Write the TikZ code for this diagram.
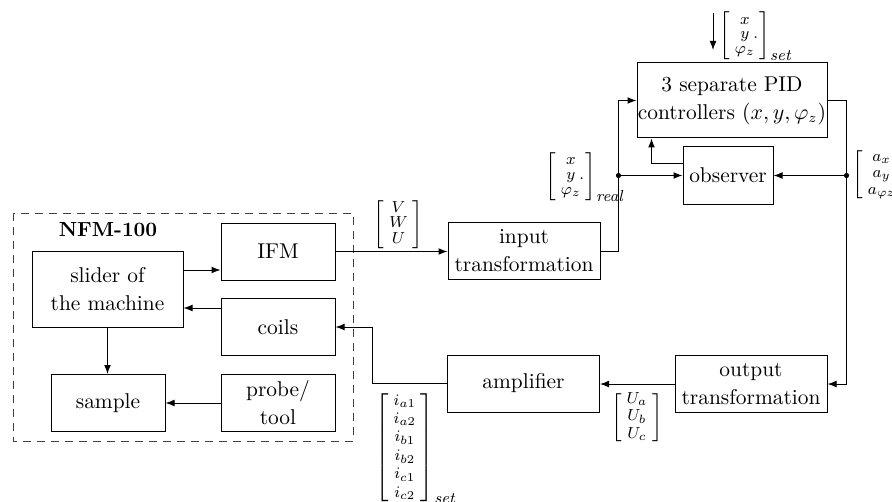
\documentclass[tikz,border=0pt]{standalone}
\usetikzlibrary{arrows.meta}
\begin{document}
\begin{tikzpicture}[x=0.5pt,y=-0.5pt,
  blk/.style={draw, line width=0.5pt, inner sep=0pt, align=center,
    font=\fontsize{10.7}{14}\selectfont,
    minimum width=57pt, minimum height=28.5pt},
  wideblk/.style={blk, minimum width=76pt},
  arr/.style={-{Latex[length=4.5pt,width=3.4pt]}, line width=0.5pt},
  vec/.style={inner sep=0pt, font=\footnotesize\setlength\arraycolsep{2.5pt}},
  jdot/.style={circle, fill, inner sep=0pt, minimum size=2.6pt},
  frame/.style={line width=0.5pt, black!75, dash pattern=on 4pt off 3pt}
]
\useasboundingbox (0,0) rectangle (892,502);

% machine frame
\draw[frame] (13,213) rectangle (353,441);
\node[font=\fontsize{10.2}{12}\selectfont\bfseries] (nfm) at (108,230) {NFM-100};

% blocks inside the machine
\node[blk] (ifm) at (278,251.5) {IFM};
\node[blk, minimum width=75.5pt, minimum height=38pt] (slider) at (107.5,289) {slider of\\the machine};
\node[blk] (coils) at (278,327) {coils};
\node[blk] (sample) at (108,403) {sample};
\node[blk] (probe) at (278,403) {probe/\\tool};

% control blocks
\node[wideblk] (input) at (524,251) {input\\transformation};
\node[wideblk] (amp) at (523.5,383.5) {amplifier};
\node[wideblk] (output) at (751,384) {output\\transformation};
\node[blk, minimum width=95pt, minimum height=37.5pt] (pid) at (732,100.5) {3 separate PID\\controllers $(x,y,\varphi_z)$};
\node[blk, minimum width=45pt] (obs) at (728,175.5) {observer};

% signal vectors
\node[vec] (vwu) at (398.5,224.5)
  {$\renewcommand\arraystretch{0.74}\left[\begin{array}{c}V\\W\\U\end{array}\right]$};
\node[vec, anchor=west] (xset) at (719,36.5)
  {$\renewcommand\arraystretch{0.76}\left[\begin{array}{c}x\\y\rlap{\hspace{2pt}.}\\\varphi_z\end{array}\right]_{\textstyle\mathit{set}}$};
\node[vec, anchor=west] (xreal) at (545,177)
  {$\renewcommand\arraystretch{0.78}\left[\begin{array}{c}x\\y\rlap{\hspace{2pt}.}\\\varphi_z\end{array}\right]_{\textstyle\mathit{real}}$};
\node[vec, anchor=west] (avec) at (852,174.5)
  {$\renewcommand\arraystretch{0.87}\left[\begin{array}{c}a_x\\a_y\\a_{\varphi z}\end{array}\right]$};
\node[vec] (uvec) at (637,417.5)
  {$\renewcommand\arraystretch{0.9}\left[\begin{array}{c}U_a\\U_b\\U_c\end{array}\right]$};
\node[vec, anchor=west] (ivec) at (375,448)
  {$\renewcommand\arraystretch{0.97}\left[\begin{array}{c}i_{a1}\\i_{a2}\\i_{b1}\\i_{b2}\\i_{c1}\\i_{c2}\end{array}\right]_{\textstyle\mathit{set}}$};

% connections inside the machine
\coordinate (s1) at ([yshift=9.5pt]slider.east);
\draw[arr] (s1) -- (s1 -| ifm.west);
\coordinate (c1) at ([yshift=9.5pt]coils.west);
\draw[arr] (c1) -- (c1 -| slider.east);
\draw[arr] (slider.south) -- (slider.south |- sample.north);
\draw[arr] (probe.west) -- (sample.east);

% measurement path
\draw[arr] (ifm.east) -- (ifm.east -| input.west);
\coordinate (jx) at ([xshift=9pt]input.east);
\coordinate (jl) at (jx |- obs.west);
\draw[arr] (input.east) -- (jx) |- (pid.west);
\node[jdot] at (jl) {};
\draw[arr] (jl) -- (obs.west);
\coordinate (o1) at ([yshift=5.75pt]obs.west);
\coordinate (p1) at ([xshift=7.5pt]pid.south west);
\draw[arr] (o1) -| (p1);

% actuation path
\coordinate (rx) at ([xshift=9.5pt]pid.east);
\coordinate (jr) at (rx |- obs.east);
\draw[arr] (pid.east) -- (rx) |- (output.east);
\node[jdot] at (jr) {};
\draw[arr] (jr) -- (obs.east);
\draw[arr] (output.west) -- (output.west -| amp.east);
\coordinate (ax) at ([xshift=-37.5pt]amp.west);
\draw[arr] (amp.west) -- (ax) |- (coils.east);

% set-point input
\coordinate (sa) at (713,13);
\coordinate (sb) at (713,50);
\draw[arr] (sa) -- (sb);
\end{tikzpicture}
\end{document}
